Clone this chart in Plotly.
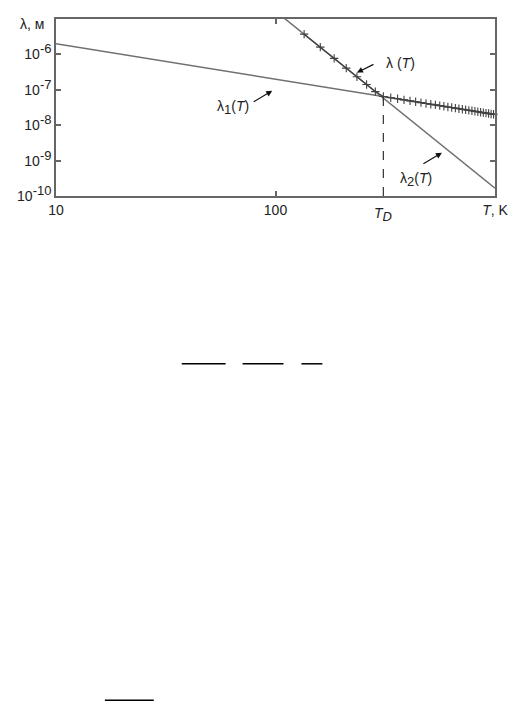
import math
import plotly.graph_objects as go

# --- data ---
T_line1 = [10, 1000]
lam1 = [2.0e-6, 2.0e-8]

T_line2 = [100, 1000]
lam2 = [1.67e-5, 1.67e-10]

T_marks = [135, 160, 185, 210, 235, 260, 285, 310, 335, 360, 385, 410, 435, 460,
           485, 510, 535, 560, 585, 610, 635, 660, 685, 710, 735, 760, 785, 810,
           835, 860, 885, 910, 935, 960, 985]
lam_marks = [3.73e-6, 1.60e-6, 7.73e-7, 4.10e-7, 2.34e-7, 1.41e-7, 8.90e-8, 6.45e-8,
             5.97e-8, 5.56e-8, 5.19e-8, 4.88e-8, 4.60e-8, 4.35e-8, 4.12e-8, 3.92e-8,
             3.74e-8, 3.57e-8, 3.42e-8, 3.28e-8, 3.15e-8, 3.03e-8, 2.92e-8, 2.82e-8,
             2.72e-8, 2.63e-8, 2.55e-8, 2.47e-8, 2.40e-8, 2.33e-8, 2.26e-8, 2.20e-8,
             2.14e-8, 2.08e-8, 2.03e-8]

T_D = 310
lam_TD = 6.45e-8

S = "<span style='font-size:13px'>%s</span>"
x_ticks = [10, 100, 1000]
x_ticktext = ["10", "100", "<i>T</i>, K"]
y_ticks = [1e-10, 1e-9, 1e-8, 1e-7, 1e-6]
y_ticktext = ["10<sup>" + S % "-10" + "</sup>", "10<sup>" + S % "-9" + "</sup>",
              "10<sup>" + S % "-8" + "</sup>", "10<sup>" + S % "-7" + "</sup>",
              "10<sup>" + S % "-6" + "</sup>"]

# label anchor points (T, lambda)
lab_lam = (370, 5.7e-7)
lab_lam1 = (64, 3.2e-8)
lab_lam2 = (438, 2.9e-10)
arr_lam = (235, 3.06e-7)
arr_lam1 = (96.6, 9.4e-8)
arr_lam2 = (573, 1.67e-9)

FONT = "Arial, Liberation Sans, sans-serif"
GRAY = "#707070"
DARK = "#404040"

fig = go.Figure()
fig.add_trace(go.Scatter(x=T_line1, y=lam1, mode="lines",
                         line=dict(color=GRAY, width=1.5), hoverinfo="skip"))
fig.add_trace(go.Scatter(x=T_line2, y=lam2, mode="lines",
                         line=dict(color=GRAY, width=1.5), hoverinfo="skip"))
fig.add_trace(go.Scatter(x=T_marks, y=lam_marks, mode="lines+markers",
                         line=dict(color=DARK, width=1.2),
                         marker=dict(symbol="cross-thin", size=6,
                                     line=dict(color=DARK, width=1.1)),
                         cliponaxis=False))
fig.add_trace(go.Scatter(x=[T_D, T_D], y=[1e-10, lam_TD], mode="lines",
                         line=dict(color="#333333", width=1.2, dash="dash")))

axis_common = dict(showgrid=False, zeroline=False, showline=True,
                   linecolor="#666666", linewidth=1.5, mirror="ticks",
                   ticks="inside", ticklen=5, tickwidth=1.5, tickcolor="#666666",
                   tickfont=dict(family=FONT, size=14, color="#222222"))

fig.update_xaxes(type="log", range=[1, 3], tickvals=x_ticks, ticktext=x_ticktext,
                 **axis_common)
fig.update_yaxes(type="log", range=[-10, -5], tickvals=y_ticks, ticktext=y_ticktext,
                 **axis_common)

L = math.log10
ann_font = dict(family=FONT, size=14, color="#222222")
annotations = [
    dict(x=0, y=1, xref="paper", yref="paper", text="λ, м", showarrow=False,
         xanchor="right", yanchor="middle", xshift=-10, yshift=-5, font=ann_font),
    dict(x=L(T_D), y=0, xref="x", yref="paper",
         text="<i>T</i><sub>" + S % "<i>D</i>" + "</sub>",
         showarrow=False, yanchor="top", yshift=-7, font=ann_font),
    dict(x=L(lab_lam[0]), y=L(lab_lam[1]), xref="x", yref="y",
         text="λ (<i>T</i>)", showarrow=False, font=ann_font),
    dict(x=L(lab_lam1[0]), y=L(lab_lam1[1]), xref="x", yref="y",
         text="λ<sub>" + S % "1" + "</sub>(<i>T</i>)", showarrow=False, font=ann_font),
    dict(x=L(lab_lam2[0]), y=L(lab_lam2[1]), xref="x", yref="y",
         text="λ<sub>" + S % "2" + "</sub>(<i>T</i>)", showarrow=False, font=ann_font),
]
for (hx, hy), ax, ay in [(arr_lam, 18, -9), (arr_lam1, -20, 12), (arr_lam2, -20, 12)]:
    annotations.append(dict(x=L(hx), y=L(hy), xref="x", yref="y", ax=ax, ay=ay,
                            axref="pixel", ayref="pixel", text="", showarrow=True,
                            arrowhead=2, arrowsize=1, arrowwidth=1.2,
                            arrowcolor="#111111"))

# fraction bars of surrounding page text (page pixel positions, body margin 8px)
OFF = 8
PL, PT, PW, PH = 55 - OFF, 17 - OFF, 440, 179
shapes = []
for x0, x1, y in [(181, 225, 365.7), (242, 283, 365.7), (301, 322, 365.7),
                  (104, 153, 706)]:
    yy = (PT + PH - (y - OFF)) / PH
    shapes.append(dict(type="line", xref="paper", yref="paper",
                       x0=((x0 - OFF) - PL) / PW, x1=((x1 - OFF) - PL) / PW,
                       y0=yy, y1=yy, line=dict(color="black", width=1.5)))

W, H = 516, 700
fig.update_layout(width=W, height=H, showlegend=False,
                  margin=dict(l=PL, r=W - PL - PW, t=PT, b=H - PT - PH, pad=0),
                  paper_bgcolor="white", plot_bgcolor="white",
                  annotations=annotations, shapes=shapes,
                  font=dict(family=FONT))

fig.write_html("out.html")
